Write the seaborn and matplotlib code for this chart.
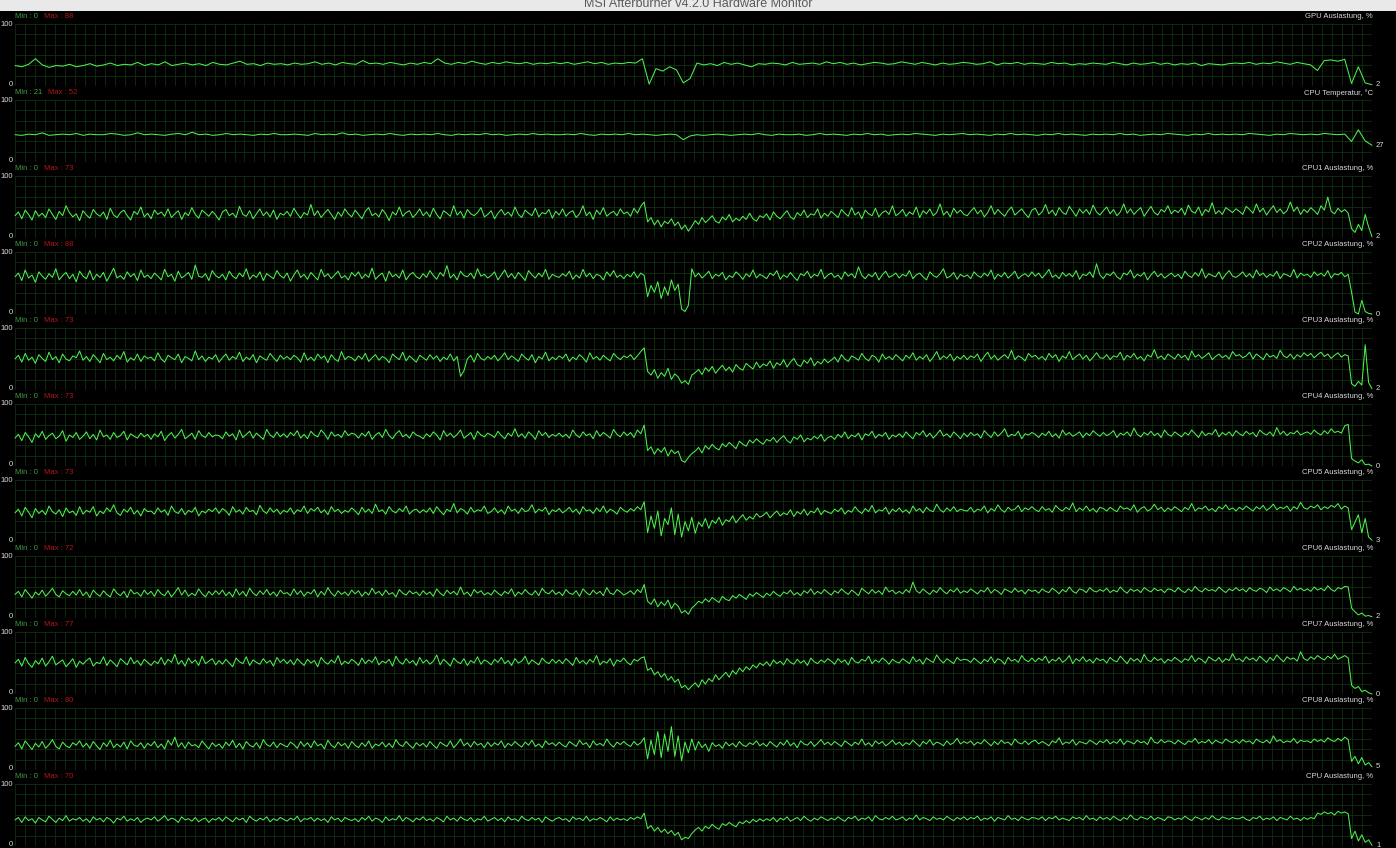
import numpy as np
import pandas as pd
import matplotlib
matplotlib.use("Agg")
import matplotlib.pyplot as plt
import seaborn as sns
from matplotlib.patches import Rectangle

# ---------------- data ----------------
panel_titles = ["GPU Auslastung, %", "CPU Temperatur, °C", "CPU1 Auslastung, %",
                "CPU2 Auslastung, %", "CPU3 Auslastung, %", "CPU4 Auslastung, %",
                "CPU5 Auslastung, %", "CPU6 Auslastung, %", "CPU7 Auslastung, %",
                "CPU8 Auslastung, %", "CPU Auslastung, %"]
min_labels = [0, 21, 0, 0, 0, 0, 0, 0, 0, 0, 0]
max_labels = [88, 52, 73, 88, 73, 73, 73, 72, 77, 80, 70]
current_labels = [2, 27, 2, 0, 2, 0, 3, 2, 0, 5, 1]

gpu = [33,31,35,44,34,30,33,32,35,31,33,36,32,34,37,33,35,34,38,33,
       36,34,39,33,35,37,34,36,33,38,35,34,37,40,35,36,33,37,35,36,
       34,37,35,36,39,35,37,34,38,36,35,41,36,37,35,38,36,34,37,35,
       38,36,44,37,35,38,36,40,37,35,38,36,39,37,36,38,35,37,36,38,
       36,38,35,37,39,36,38,35,37,36,38,37,44,3,28,24,31,26,5,12,
       37,34,36,33,38,35,37,34,31,36,35,37,36,34,38,35,36,37,35,39,
       36,38,35,37,34,36,38,37,35,36,39,37,35,38,36,34,37,35,36,38,
       37,35,36,39,34,37,36,38,35,37,36,35,38,36,37,34,36,35,37,36,
       35,38,36,34,37,35,36,38,35,37,34,36,35,37,33,36,35,34,36,37,
       36,38,35,37,36,39,37,35,38,36,34,25,41,42,40,43,4,31,5,2]

cpu_temp = [44,43,45,44,47,43,44,45,44,46,43,45,44,44,46,45,43,44,47,44,
            45,44,43,45,46,44,48,44,45,43,44,46,44,45,44,43,45,44,46,44,
            44,45,44,43,46,44,45,44,47,44,45,43,44,45,44,46,44,43,45,44,
            45,44,46,44,43,45,44,45,44,46,44,45,43,44,45,44,46,44,45,44,
            44,45,44,46,44,43,45,44,45,44,46,44,45,44,43,44,45,44,36,42,
            44,43,44,45,44,43,44,45,44,46,44,43,45,44,44,45,43,44,46,44,
            45,44,43,45,44,46,44,45,43,44,45,44,46,45,44,43,45,44,45,46,
            44,45,44,43,45,44,46,44,45,44,43,45,44,46,44,45,44,43,45,44,
            45,44,46,44,45,43,44,45,44,46,45,44,43,45,44,46,44,45,44,45,
            44,46,45,44,43,45,44,46,45,44,45,44,46,45,44,45,33,52,34,27]

cpu1 = [36,42,31,45,38,29,44,35,40,33,47,38,30,43,36,52,41,34,39,28,
        44,37,32,46,39,35,42,30,48,37,33,41,45,36,29,43,38,50,34,40,
        31,45,38,42,35,47,33,39,44,30,41,36,49,38,32,45,40,35,43,37,
        29,42,46,36,40,33,51,38,35,44,31,39,47,36,42,34,45,30,40,37,
        43,35,48,39,32,41,37,54,36,44,33,40,46,38,30,42,35,47,39,34,
        45,38,31,43,49,36,40,34,46,39,28,42,37,50,35,41,44,33,39,47,
        36,42,34,48,38,31,44,40,35,52,37,43,32,46,39,36,41,49,34,38,
        44,31,40,46,37,42,35,50,38,33,45,40,36,48,34,41,39,46,32,43,
        37,47,35,41,44,33,39,52,36,42,30,45,38,49,35,40,43,36,47,39,
        42,35,48,40,51,58,26,33,21,29,18,27,23,31,20,26,14,21,11,19,
        28,22,33,25,30,36,27,24,34,29,38,26,32,28,35,30,40,31,27,36,
        33,39,29,42,35,31,38,44,34,30,41,36,45,33,39,37,47,32,40,35,
        43,38,33,46,40,35,49,37,42,31,45,39,36,48,34,41,44,38,52,36,
        40,46,35,42,38,50,33,44,39,47,36,41,55,37,43,34,48,40,45,38,
        36,43,49,39,45,34,41,52,38,46,40,35,44,50,37,42,47,39,33,45,
        48,37,42,54,39,45,36,49,41,38,51,43,35,47,40,46,38,53,42,37,
        44,50,39,46,36,42,55,40,47,38,44,49,35,43,51,41,37,46,42,52,
        39,45,41,48,37,53,43,40,50,36,46,42,57,39,44,38,49,45,41,47,
        43,38,51,46,40,55,42,48,37,45,52,41,47,39,44,58,43,50,38,46,
        41,49,44,38,52,45,66,43,39,48,42,46,40,15,9,22,12,38,18,2]

cpu2 = [60,66,54,71,58,63,51,68,61,56,65,59,73,55,62,67,57,64,52,69,
        61,57,70,55,64,59,67,53,63,74,58,62,56,68,60,65,54,71,59,63,
        57,66,61,55,72,60,64,53,69,58,62,67,56,79,61,59,65,54,70,62,
        58,64,55,69,61,57,66,60,73,56,63,59,68,54,65,61,57,70,62,58,
        66,53,63,71,59,64,56,67,61,55,72,60,65,57,63,69,58,62,55,67,
        61,68,57,64,59,74,56,62,66,53,69,60,64,58,71,55,63,67,60,57,
        65,59,70,62,56,67,61,78,58,64,55,69,62,60,66,57,73,61,64,58,
        62,68,55,63,71,59,65,57,67,61,54,70,63,58,66,60,72,56,64,61,
        59,65,61,69,56,63,58,72,60,66,57,64,62,55,68,61,70,59,63,57,
        64,60,68,58,66,62,28,46,35,52,25,44,30,55,38,48,8,4,14,73,
        60,66,58,63,69,57,64,61,67,55,62,59,68,63,56,65,60,71,58,64,
        61,57,66,62,70,56,63,59,67,60,54,65,62,69,58,64,61,72,57,63,
        66,59,63,56,68,61,65,58,76,62,57,64,60,67,55,63,69,59,62,66,
        58,64,61,70,57,63,66,60,55,68,62,59,65,73,58,61,67,56,64,60,
        63,57,68,62,59,66,61,71,56,64,60,67,58,63,69,57,62,65,60,68,
        61,66,58,64,72,59,63,57,67,61,65,60,70,56,64,62,68,59,81,63,
        57,65,62,68,60,56,66,63,71,58,64,61,67,55,63,69,60,65,58,62,
        66,60,64,57,69,62,59,67,61,73,58,65,62,60,68,56,64,70,61,59,
        63,68,60,65,58,71,62,66,59,64,61,69,57,65,63,60,72,58,66,62,
        64,59,68,62,66,61,70,58,65,63,67,60,64,35,3,0,22,4,1,0]

cpu3 = [50,56,45,59,48,53,43,57,51,46,61,49,54,44,58,50,47,55,52,63,
        48,54,46,57,51,44,59,49,53,47,56,50,62,45,52,48,58,46,55,51,
        53,47,60,50,45,56,52,49,58,44,54,51,47,63,49,55,46,53,50,57,
        45,52,58,48,54,50,61,46,53,49,57,44,55,51,48,59,52,46,56,50,
        54,49,56,52,45,60,48,53,47,58,51,55,44,57,50,46,62,49,54,52,
        47,55,50,59,46,52,57,48,54,51,44,58,53,49,61,47,55,50,45,56,
        52,48,57,50,55,46,53,49,58,47,54,22,31,50,56,45,59,51,48,54,
        50,56,47,53,60,49,55,51,46,58,52,48,57,44,54,50,61,47,53,49,
        55,51,58,46,53,49,57,52,45,60,50,54,48,56,51,47,59,53,49,55,
        52,57,49,55,62,68,30,24,33,19,28,22,35,17,26,21,11,15,9,24,
        28,33,25,36,30,38,27,34,40,31,37,29,41,35,32,43,38,34,45,36,
        42,39,47,35,44,40,49,37,45,51,41,38,48,43,52,39,46,42,50,44,
        48,53,45,57,50,46,55,52,48,59,51,47,56,53,45,58,50,54,49,57,
        52,47,56,51,60,48,54,50,57,46,53,62,49,55,51,58,47,54,50,56,
        49,55,52,58,46,54,61,50,56,48,53,57,51,64,49,55,52,47,59,53,
        56,50,54,48,59,52,57,46,55,51,62,49,54,58,50,56,47,53,60,52,
        51,57,49,55,53,61,48,56,52,59,50,54,47,57,53,65,51,55,49,58,
        54,50,58,52,56,48,63,53,57,51,55,60,49,54,58,52,56,50,62,55,
        57,52,55,61,50,58,54,49,59,53,56,51,64,55,52,58,50,57,53,60,
        55,59,52,57,61,54,58,51,56,60,53,57,55,10,6,14,8,73,12,2]

cpu4 = [45,51,41,54,47,38,52,46,56,43,49,53,44,48,57,40,50,46,54,43,
        48,55,44,51,42,58,47,50,43,54,46,49,56,42,52,48,45,53,47,51,
        43,52,47,56,41,49,54,45,51,59,44,48,53,43,57,49,46,54,47,50,
        49,44,55,48,52,42,58,46,51,56,45,53,48,43,59,50,46,55,47,52,
        46,54,49,57,45,51,44,56,50,47,58,52,43,55,48,51,46,57,49,53,
        51,45,53,48,56,43,50,54,46,59,49,44,52,57,47,51,45,55,50,48,
        44,52,47,55,50,42,57,48,53,46,51,58,45,49,54,43,56,50,47,53,
        50,46,56,49,44,53,48,60,47,52,45,55,50,43,57,49,54,46,51,48,
        53,47,51,45,58,50,46,55,49,52,44,57,48,54,50,45,59,51,47,55,
        49,54,46,58,52,66,25,31,19,28,22,30,16,26,20,24,9,6,14,20,
        24,30,21,33,27,35,29,26,36,31,38,33,28,40,35,32,42,37,44,39,
        35,43,40,46,38,44,49,41,37,47,43,50,39,45,42,48,44,51,40,46,
        48,43,51,46,55,44,50,47,53,42,52,49,56,45,51,48,54,43,50,47,
        52,46,55,49,44,54,50,57,47,53,45,51,58,48,52,46,55,50,44,53,
        47,54,49,52,45,57,51,46,55,48,53,60,47,51,49,56,44,52,50,54,
        51,46,53,49,56,47,52,45,58,50,54,48,51,55,46,53,49,57,52,48,
        54,49,52,57,46,53,50,55,48,61,51,47,54,50,56,49,53,46,58,51,
        48,55,51,47,54,50,58,52,46,56,49,53,51,59,47,54,50,55,48,57,
        52,49,56,51,54,47,58,53,50,55,48,62,51,56,49,54,52,57,50,53,
        55,51,58,53,50,57,52,60,54,56,53,65,67,12,8,5,10,2,3,0]

cpu5 = [47,53,42,56,48,39,54,46,51,44,58,49,45,52,41,55,47,50,43,57,
        45,51,48,57,42,50,46,55,49,60,47,43,53,48,56,45,51,42,54,49,
        50,45,55,48,52,43,58,49,46,54,44,51,48,56,42,50,47,53,49,55,
        46,54,50,43,57,48,52,45,56,49,51,44,59,50,46,55,48,53,45,51,
        48,55,45,52,49,58,46,54,50,56,47,52,44,57,49,53,46,51,48,55,
        50,44,56,48,53,46,61,49,52,45,57,50,47,54,49,58,45,51,53,47,
        52,48,55,46,57,50,44,53,49,62,47,54,51,45,56,48,52,50,58,46,
        49,55,47,52,45,58,50,53,46,55,49,51,60,47,53,50,56,44,52,49,
        54,47,51,56,48,53,45,57,50,52,46,55,49,58,47,53,50,45,56,51,
        48,54,50,57,52,65,15,42,22,50,10,38,28,55,12,45,8,33,18,40,
        14,32,25,38,22,35,30,40,27,36,33,42,31,38,44,35,41,37,46,40,
        43,48,39,45,50,42,47,44,52,41,49,45,53,43,50,47,55,44,51,48,
        46,53,49,55,45,51,48,57,50,46,54,49,59,47,52,50,56,45,53,49,
        55,48,52,46,58,50,54,47,56,51,49,61,52,48,55,50,57,49,53,51,
        50,56,48,53,51,58,47,54,50,60,52,48,56,51,53,59,49,55,52,57,
        52,49,57,51,54,48,59,53,50,56,52,63,49,55,51,58,50,54,48,56,
        54,50,56,52,49,58,53,55,51,60,48,54,57,50,53,61,52,56,49,55,
        51,57,53,49,56,52,62,50,55,53,58,51,54,49,57,53,60,52,55,50,
        56,52,58,54,50,57,53,59,51,55,61,52,56,54,58,50,57,53,64,55,
        53,58,55,60,52,57,54,59,56,62,53,58,55,20,32,44,15,38,8,3]

cpu6 = [38,43,34,46,39,32,42,37,45,35,41,48,38,34,44,39,36,43,37,46,
        36,42,33,45,39,35,44,38,34,47,40,36,43,33,46,39,41,35,45,38,
        43,35,46,39,36,44,34,41,49,37,45,35,40,36,47,39,34,43,37,44,
        38,45,36,42,34,47,37,43,35,48,40,36,44,38,46,37,42,35,45,39,
        41,36,47,38,44,35,42,39,46,34,43,37,49,40,35,44,38,42,36,45,
        39,44,35,42,37,48,39,43,36,45,38,41,34,46,40,37,44,39,42,36,
        44,38,42,35,47,40,36,45,39,43,37,50,38,42,35,46,40,44,37,41,
        37,45,40,36,43,39,47,35,42,38,46,40,37,44,36,48,41,39,45,38,
        42,36,46,40,38,44,35,47,41,37,45,39,43,36,49,40,38,46,42,37,
        40,44,38,46,41,54,27,22,31,18,26,20,29,15,24,19,8,12,6,16,
        21,27,24,31,26,33,29,25,35,30,28,36,32,38,34,30,39,35,41,37,
        33,40,36,43,38,35,42,39,45,37,41,36,44,40,47,38,43,39,46,41,
        37,44,40,47,42,38,45,41,36,48,43,39,46,40,44,38,50,42,45,39,
        43,39,46,41,58,44,40,47,42,38,45,41,49,43,39,46,42,48,40,44,
        41,47,43,39,45,42,49,40,46,43,38,47,44,41,48,42,45,39,46,43,
        45,40,47,43,41,48,44,39,46,42,50,43,40,47,45,41,49,44,42,46,
        43,48,41,45,42,50,44,40,47,43,46,41,49,45,42,48,44,46,41,47,
        46,42,49,44,41,47,43,51,45,42,48,44,46,43,50,45,41,47,44,49,
        44,47,42,49,45,43,48,46,41,50,44,47,43,49,46,42,51,45,48,44,
        47,43,50,45,48,44,52,46,43,49,47,51,50,16,10,5,8,3,4,2]

cpu7 = [50,56,45,59,49,43,54,48,58,45,52,61,47,51,55,44,50,57,43,53,
        48,54,58,45,51,49,60,46,55,50,44,57,52,47,59,49,54,46,56,51,
        46,53,49,59,47,56,51,64,48,54,45,58,50,55,46,61,49,53,57,47,
        54,48,56,50,44,58,52,49,60,46,55,51,48,57,50,54,45,59,51,56,
        49,55,47,57,51,46,56,50,54,44,59,52,48,55,50,62,47,53,49,56,
        52,46,58,49,55,51,60,47,53,50,56,45,61,52,48,57,50,54,46,59,
        50,55,48,53,63,47,56,51,45,58,52,49,57,46,54,50,60,48,55,52,
        47,56,51,59,49,54,46,57,50,53,61,48,55,51,47,58,52,49,56,50,
        55,49,57,52,46,59,50,54,48,56,51,62,47,53,50,57,45,55,52,58,
        51,47,56,53,58,60,38,42,31,36,27,33,22,28,19,24,10,14,7,13,
        18,11,23,16,25,20,31,23,29,35,27,38,32,42,36,44,39,47,42,50,
        46,52,45,55,49,53,47,57,51,48,56,50,54,46,58,52,49,55,51,57,
        53,48,57,51,55,47,59,52,50,56,53,61,49,55,51,58,54,48,56,52,
        50,57,53,49,60,52,56,48,58,54,51,63,55,50,57,53,49,59,54,56,
        55,51,58,53,49,56,52,60,50,57,54,48,59,53,56,51,62,55,52,58,
        52,58,54,61,50,56,53,59,51,55,62,49,57,53,60,52,56,50,58,54,
        56,50,59,54,52,61,55,49,58,53,57,51,64,55,52,59,54,57,50,56,
        53,59,55,51,57,54,62,52,58,55,50,60,56,53,59,51,57,54,65,55,
        57,52,60,55,58,53,61,56,51,59,54,63,57,52,60,56,58,53,68,57,
        54,60,56,62,58,55,61,57,64,56,59,62,58,14,9,12,4,6,2,0]

cpu8 = [38,44,34,47,40,33,43,37,46,35,41,49,38,34,45,39,36,44,40,47,
        37,43,35,46,39,33,44,38,48,36,42,37,45,34,47,40,38,44,35,43,
        39,46,36,42,34,48,40,53,37,44,35,45,39,41,36,47,40,34,44,38,
        42,35,45,39,48,36,43,34,46,40,37,44,35,49,41,38,45,36,43,40,
        37,45,41,35,46,38,44,36,47,39,42,34,48,40,36,45,39,43,35,46,
        40,36,44,38,47,35,42,39,45,37,43,36,49,41,38,46,40,35,44,39,
        43,37,46,40,35,45,41,38,47,36,42,50,39,44,37,46,40,43,36,45,
        38,44,40,47,36,43,39,46,41,37,45,40,48,38,42,36,47,41,44,39,
        45,40,37,46,42,38,48,41,44,36,47,40,43,39,50,42,37,45,41,46,
        41,38,46,40,44,52,18,48,25,62,20,58,30,70,22,55,15,45,28,50,
        32,46,36,42,30,44,38,41,35,45,39,43,37,46,40,38,44,41,47,39,
        43,38,46,41,37,45,40,48,39,44,36,47,42,40,46,38,43,49,41,45,
        40,46,42,38,47,43,39,45,41,50,40,44,38,47,42,46,39,43,48,41,
        45,39,44,41,48,43,38,46,42,49,40,45,43,39,47,41,44,51,42,46,
        43,47,40,45,42,49,44,39,46,41,48,43,45,40,50,44,42,47,41,46,
        48,42,46,43,39,47,44,52,41,45,43,49,40,46,44,42,48,45,41,47,
        44,49,42,46,43,50,41,47,45,42,48,44,46,41,53,45,43,49,44,47,
        46,42,48,44,41,47,45,51,43,46,44,49,42,48,45,43,50,46,44,48,
        43,49,45,47,42,50,46,44,48,43,55,46,49,44,47,45,51,43,48,46,
        47,44,50,46,49,45,52,48,46,51,47,53,49,14,22,10,20,8,12,5]

cpu_total = [42,46,38,47,41,44,37,46,42,39,48,43,38,45,41,49,40,44,42,46,
             40,44,38,47,42,45,39,46,43,37,45,42,48,40,44,41,46,38,43,45,
             42,47,40,44,49,41,45,43,38,47,42,44,40,46,39,43,45,38,44,42,
             46,40,47,43,39,46,42,45,38,48,43,40,45,42,47,39,44,41,46,43,
             40,45,42,48,39,44,43,46,40,45,41,44,38,47,42,45,39,46,43,41,
             44,39,46,42,48,40,45,43,38,47,41,44,42,49,40,46,43,39,45,42,
             47,41,44,40,46,43,39,48,42,45,40,47,43,41,46,39,44,42,48,40,
             43,46,41,45,39,47,42,44,40,48,43,41,46,42,45,38,47,43,40,44,
             46,42,44,39,47,43,45,41,48,40,44,42,46,43,39,47,41,45,42,44,
             41,46,43,47,44,53,28,33,24,30,22,27,20,25,17,22,10,14,12,20,
             26,30,24,32,28,35,30,27,36,33,38,34,31,39,36,41,37,43,39,44,
             40,44,41,46,39,45,42,47,40,43,46,41,48,43,40,45,42,47,44,41,
             45,42,47,43,40,46,44,48,41,45,43,47,40,49,44,42,46,43,48,42,
             44,47,41,45,43,50,42,46,44,41,47,43,45,42,48,44,41,46,43,47,
             42,46,44,48,41,45,43,47,40,46,44,42,49,43,45,41,47,44,42,46,
             45,43,47,41,46,44,48,42,45,43,41,47,44,46,42,49,43,45,41,47,
             43,46,42,48,44,41,46,43,50,44,42,47,45,43,48,42,46,44,41,47,
             46,42,45,43,48,44,41,47,45,42,46,43,49,44,42,47,45,43,46,44,
             44,47,43,41,46,44,48,42,45,43,47,41,46,44,42,48,43,45,41,46,
             43,46,44,53,51,55,52,54,50,56,53,55,52,12,24,8,18,6,10,1]

series = [gpu, cpu_temp, cpu1, cpu2, cpu3, cpu4, cpu5, cpu6, cpu7, cpu8, cpu_total]

# ---------------- style ----------------
sns.set_style("dark")
plt.rcParams['font.family'] = ['Liberation Sans', 'DejaVu Sans']

W, H = 1396, 848
fig = plt.figure(figsize=(W / 100, H / 100), dpi=100, facecolor="black")


def fx(x):
    return x / W


def fy(y):
    return 1 - y / H


# top title bar
fig.patches.append(Rectangle((0, fy(11)), 1, 11 / H, transform=fig.transFigure,
                             facecolor="#e9e9e9", edgecolor="none", zorder=0))
fig.text(fx(698), fy(7), "MSI Afterburner v4.2.0 Hardware Monitor", ha="center",
         va="baseline", fontsize=9, color="#5a5a5a")

LINE = "#4ef04e"
GRID = "#0f2f0f"
LEFT, RIGHT = 15, 1372
PH = 62

for k, vals in enumerate(series):
    top = 24 + 76 * k
    bot = top + PH
    ax = fig.add_axes([fx(LEFT), fy(bot), (RIGHT - LEFT) / W, PH / H])
    ax.set_facecolor("black")
    n = len(vals)
    df = pd.DataFrame({"t": np.arange(n), "v": vals})
    sns.lineplot(data=df, x="t", y="v", ax=ax, color=LINE, linewidth=0.75,
                 estimator=None, clip_on=False, zorder=3)
    ax.set_xlim(0, n - 1)
    ax.set_ylim(0, 100)
    ax.set_xticks(np.linspace(0, n - 1, 137))
    ax.set_yticks(np.linspace(0, 100, 7))
    ax.tick_params(length=0, labelbottom=False, labelleft=False)
    ax.grid(True, color=GRID, linewidth=0.6)
    ax.set_xlabel("")
    ax.set_ylabel("")
    for s in ax.spines.values():
        s.set_visible(False)

    # axis labels
    fig.text(fx(13), fy(top), "100", ha="right", va="center", fontsize=5.5, color="#d8d8d8")
    fig.text(fx(13), fy(bot - 1), "0", ha="right", va="center", fontsize=5.5, color="#d8d8d8")

    # min / max
    tmin = fig.text(fx(15), fy(17 + 76 * k), f"Min : {min_labels[k]}", ha="left",
                    va="center", fontsize=5.5, color="#3fa03f")
    ax.annotate(f"Max : {max_labels[k]}", xy=(1, 0.5), xycoords=tmin,
                xytext=(6, 0), textcoords="offset pixels", ha="left", va="center",
                fontsize=5.5, color="#b01818", annotation_clip=False)

    # title on right
    fig.text(fx(1373), fy(17 + 76 * k), panel_titles[k], ha="right", va="center",
             fontsize=5.5, color="#d8d8d8")

    # current value
    ax.annotate(str(current_labels[k]), xy=(1, vals[-1]),
                xycoords=("axes fraction", "data"), xytext=(4, 0),
                textcoords="offset pixels", ha="left", va="center",
                fontsize=5.5, color="#d8d8d8", annotation_clip=False)

fig.savefig("out.png", dpi=100, facecolor="black")
